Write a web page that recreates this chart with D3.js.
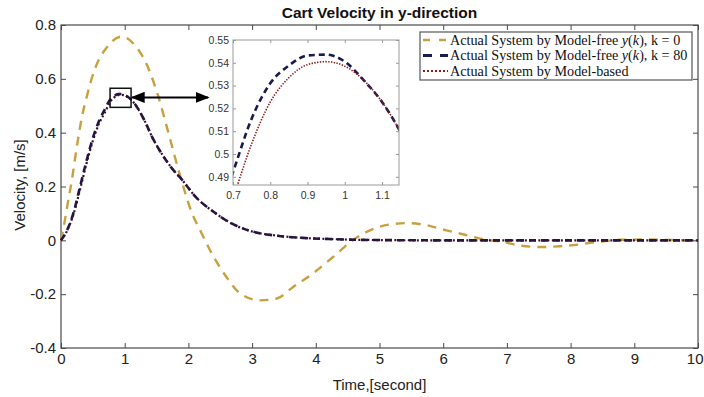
<!DOCTYPE html>
<html><head><meta charset="utf-8">
<script src="https://cdn.jsdelivr.net/npm/d3@7"></script>
<style>body{margin:0;background:#fff}svg{display:block}</style>
</head><body><div id="chart"></div>
<script>
// ---------- data ----------
const title = "Cart Velocity in y-direction";
const xLabel = "Time,[second]";
const yLabel = "Velocity, [m/s]";
const xTicks = [0,1,2,3,4,5,6,7,8,9,10];
const yTicks = [-0.4,-0.2,0,0.2,0.4,0.6,0.8];
const yTickLabels = ["-0.4","-0.2","0","0.2","0.4","0.6","0.8"];
const insetXTicks = [0.7,0.8,0.9,1,1.1];
const insetXTickLabels = ["0.7","0.8","0.9","1","1.1"];
const insetYTicks = [0.49,0.5,0.51,0.52,0.53,0.54,0.55];
const insetYTickLabels = ["0.49","0.5","0.51","0.52","0.53","0.54","0.55"];

// k = 0 (model-free)
const timeK0 = [0,0.05,0.1,0.17,0.25,0.33,0.4,0.53,0.73,0.95,1.16,1.37,1.52,1.68,1.87,2.05,2.21,2.34,2.6,2.81,3.12,3.39,3.64,3.96,4.27,4.58,4.85,5.16,5.45,5.74,6.05,6.37,6.63,6.94,7.2,7.52,7.83,8.15,8.41,8.8,9.2,9.6,10];
const velK0  = [0,0.06,0.13,0.223,0.35,0.46,0.53,0.635,0.72,0.757,0.725,0.64,0.54,0.405,0.24,0.105,0.025,-0.037,-0.137,-0.197,-0.223,-0.216,-0.174,-0.122,-0.062,0,0.037,0.059,0.064,0.056,0.037,0.019,0.004,-0.006,-0.019,-0.025,-0.022,-0.015,-0.006,0.002,0.003,0.001,0];

// k = 80 (model-free) and model-based share one time base
const timeDark = [0,0.1,0.2,0.3,0.4,0.5,0.6,0.7,0.75,0.8,0.85,0.9,0.95,1.0,1.05,1.1,1.15,1.3,1.45,1.6,1.75,1.9,2.1,2.4,2.7,3.0,3.4,3.8,4.2,5,6,7,8,9,10];
const velK80 = [0,0.04,0.105,0.2,0.295,0.38,0.445,0.492,0.5155,0.531,0.5388,0.5432,0.5436,0.5405,0.5325,0.5228,0.5095,0.45,0.375,0.315,0.265,0.225,0.165,0.105,0.06,0.033,0.017,0.009,0.005,0.001,0,0,0,0,0];
const velModelBased = [0,0.038,0.1,0.19,0.285,0.37,0.435,0.4805,0.5045,0.5228,0.5335,0.5392,0.5405,0.5385,0.5325,0.5228,0.5095,0.45,0.375,0.315,0.265,0.225,0.165,0.105,0.06,0.033,0.017,0.009,0.005,0.001,0,0,0,0,0];

// zoom box drawn on main axes and arrow (data coords)
const zoomBoxT = [0.77,1.1];
const zoomBoxV = [0.494,0.565];
const arrowT = [1.1,2.31];
const arrowV = 0.531;

// ---------- layout ----------
const W = 704, H = 397;
const m = {l:61, r:6, t:25, b:49};
const colK0 = "#c9a040", colK80 = "#1b1a4e", colMB = "#8c1c1c";
const axisCol = "#4a4a4a";

const svg = d3.select("#chart").append("svg").attr("width",W).attr("height",H);
const x = d3.scaleLinear().domain([0,10]).range([m.l, W-m.r]);
const y = d3.scaleLinear().domain([-0.4,0.8]).range([H-m.b, m.t]);

const fontSans = "'Liberation Sans', Arial, sans-serif";
const fontSerif = "'Liberation Serif', 'DejaVu Serif', serif";

// title
svg.append("text").attr("x",379.5).attr("y",17.5).attr("text-anchor","middle")
  .style("font-family",fontSans).style("font-weight","bold").style("font-size","15.5px").attr("fill","#111").text(title);

// axes
function styleAxis(g){
  g.select(".domain").remove();
  g.selectAll(".tick line").attr("stroke",axisCol);
  g.selectAll(".tick text").style("font-family",fontSans).style("font-size","15px").attr("fill","#222");
}
const gx = svg.append("g").attr("transform",`translate(0,${H-m.b})`)
  .call(d3.axisBottom(x).tickValues(xTicks).tickFormat(d=>String(d)).tickSize(-5).tickPadding(5))
  .call(styleAxis);
// last label sits at the window edge: keep it inside
gx.selectAll(".tick text").filter(d=>d===10).attr("text-anchor","end").attr("dx",W-1-x(10)+"px");
svg.append("g").attr("transform",`translate(0,${m.t})`)
  .call(d3.axisTop(x).tickValues(xTicks).tickFormat("").tickSize(-5))
  .call(styleAxis);
svg.append("g").attr("transform",`translate(${m.l},0)`)
  .call(d3.axisLeft(y).tickValues(yTicks).tickFormat((d,i)=>yTickLabels[i]).tickSize(-5).tickPadding(5))
  .call(styleAxis);
svg.append("g").attr("transform",`translate(${W-m.r},0)`)
  .call(d3.axisRight(y).tickValues(yTicks).tickFormat("").tickSize(-5))
  .call(styleAxis);
svg.append("rect").attr("x",m.l).attr("y",m.t).attr("width",W-m.r-m.l).attr("height",H-m.b-m.t)
  .attr("fill","none").attr("stroke",axisCol).attr("stroke-width",1.2);

// axis labels
svg.append("text").attr("x",379.5).attr("y",390).attr("text-anchor","middle")
  .style("font-family",fontSans).style("font-size","15px").attr("fill","#222").text(xLabel);
svg.append("text").attr("transform","translate(25,185) rotate(-90)").attr("text-anchor","middle")
  .style("font-family",fontSans).style("font-size","15px").attr("fill","#222").text(yLabel);

// lines
const lineMain = (xs,ys)=>d3.line().curve(d3.curveMonotoneX).x((d,i)=>x(xs[i])).y((d,i)=>y(ys[i]))(ys);
const gMain = svg.append("g");
gMain.append("path").attr("d",lineMain(timeK0,velK0)).attr("fill","none").attr("stroke",colK0)
  .attr("stroke-width",2.4).attr("stroke-dasharray","9,7");
gMain.append("path").attr("d",lineMain(timeDark,velK80)).attr("fill","none").attr("stroke",colK80)
  .attr("stroke-width",2.6).attr("stroke-dasharray","7,5");
gMain.append("path").attr("d",lineMain(timeDark,velModelBased)).attr("fill","none").attr("stroke","#3a0f2a")
  .attr("stroke-width",2.2).attr("stroke-dasharray","2,2.5");

// zoom box + arrow
svg.append("rect").attr("x",x(zoomBoxT[0])).attr("y",y(zoomBoxV[1]))
  .attr("width",x(zoomBoxT[1])-x(zoomBoxT[0])).attr("height",y(zoomBoxV[0])-y(zoomBoxV[1]))
  .attr("fill","none").attr("stroke","#111").attr("stroke-width",1.5);
const defs = svg.append("defs");
defs.append("marker").attr("id","ah").attr("viewBox","0 0 10 10").attr("refX",9).attr("refY",5)
  .attr("markerWidth",7).attr("markerHeight",7).attr("orient","auto-start-reverse")
  .append("path").attr("d","M0,1 L10,5 L0,9 Z").attr("fill","#000");
svg.append("line").attr("x1",x(arrowT[0])+1).attr("x2",x(arrowT[1])).attr("y1",y(arrowV)).attr("y2",y(arrowV))
  .attr("stroke","#000").attr("stroke-width",2).attr("marker-start","url(#ah)").attr("marker-end","url(#ah)");

// ---------- inset ----------
const ix = d3.scaleLinear().domain([0.7,1.1455]).range([233,399]);
const iy = d3.scaleLinear().domain([0.4864,0.55]).range([185,40]);
const gi = svg.append("g");
gi.append("rect").attr("x",233).attr("y",40).attr("width",166).attr("height",145).attr("fill","#fff");
defs.append("clipPath").attr("id","iclip").append("rect").attr("x",233).attr("y",40).attr("width",166).attr("height",145);
function styleInset(g){
  g.select(".domain").remove();
  g.selectAll(".tick line").attr("stroke","#999");
  g.selectAll(".tick text").style("font-family",fontSans).style("font-size","10.5px").attr("fill","#333");
}
gi.append("g").attr("transform","translate(0,185)")
  .call(d3.axisBottom(ix).tickValues(insetXTicks).tickFormat((d,i)=>insetXTickLabels[i]).tickSize(-3).tickPadding(7)).call(styleInset);
gi.append("g").attr("transform","translate(0,40)")
  .call(d3.axisTop(ix).tickValues(insetXTicks).tickFormat("").tickSize(-3)).call(styleInset);
gi.append("g").attr("transform","translate(233,0)")
  .call(d3.axisLeft(iy).tickValues(insetYTicks).tickFormat((d,i)=>insetYTickLabels[i]).tickSize(-3).tickPadding(4)).call(styleInset);
gi.append("g").attr("transform","translate(399,0)")
  .call(d3.axisRight(iy).tickValues(insetYTicks).tickFormat("").tickSize(-3)).call(styleInset);
const lineIn = (xs,ys)=>d3.line().curve(d3.curveMonotoneX).x((d,i)=>ix(xs[i])).y((d,i)=>iy(ys[i]))(ys);
const gic = gi.append("g").attr("clip-path","url(#iclip)");
gic.append("path").attr("d",lineIn(timeDark,velK80)).attr("fill","none").attr("stroke",colK80)
  .attr("stroke-width",2.6).attr("stroke-dasharray","6,4");
gic.append("path").attr("d",lineIn(timeDark,velModelBased)).attr("fill","none").attr("stroke",colMB)
  .attr("stroke-width",1.6).attr("stroke-dasharray","1.4,1.4");
gi.append("rect").attr("x",233).attr("y",40).attr("width",166).attr("height",145)
  .attr("fill","none").attr("stroke","#9a9a9a").attr("stroke-width",1);

// ---------- legend ----------
const lg = svg.append("g");
lg.append("rect").attr("x",420).attr("y",32).attr("width",272).attr("height",48)
  .attr("fill","#fff").attr("stroke","#555").attr("stroke-width",1.2);
const rowsY = [40,55.5,71];
const sampleStyles = [
  {c:colK0, w:2.4, dash:"7,9"},
  {c:colK80, w:2.8, dash:"9,8"},
  {c:colMB, w:1.8, dash:"2,2"}
];
const legendParts = [
  ["Actual System by Model-free ", "y", "(", "k", "), k = 0"],
  ["Actual System by Model-free ", "y", "(", "k", "), k = 80"],
  ["Actual System by Model-based"]
];
rowsY.forEach((ry,i)=>{
  const s = sampleStyles[i];
  lg.append("line").attr("x1",423).attr("x2",448).attr("y1",ry).attr("y2",ry)
    .attr("stroke",s.c).attr("stroke-width",s.w).attr("stroke-dasharray",s.dash);
  const t = lg.append("text").attr("x",450).attr("y",ry+4.5)
    .style("font-family",fontSerif).style("font-size","14.2px").attr("fill","#111");
  legendParts[i].forEach((p,j)=>{
    t.append("tspan").text(p).style("font-style",(j===1||j===3)?"italic":"normal");
  });
});
</script>
</body></html>
